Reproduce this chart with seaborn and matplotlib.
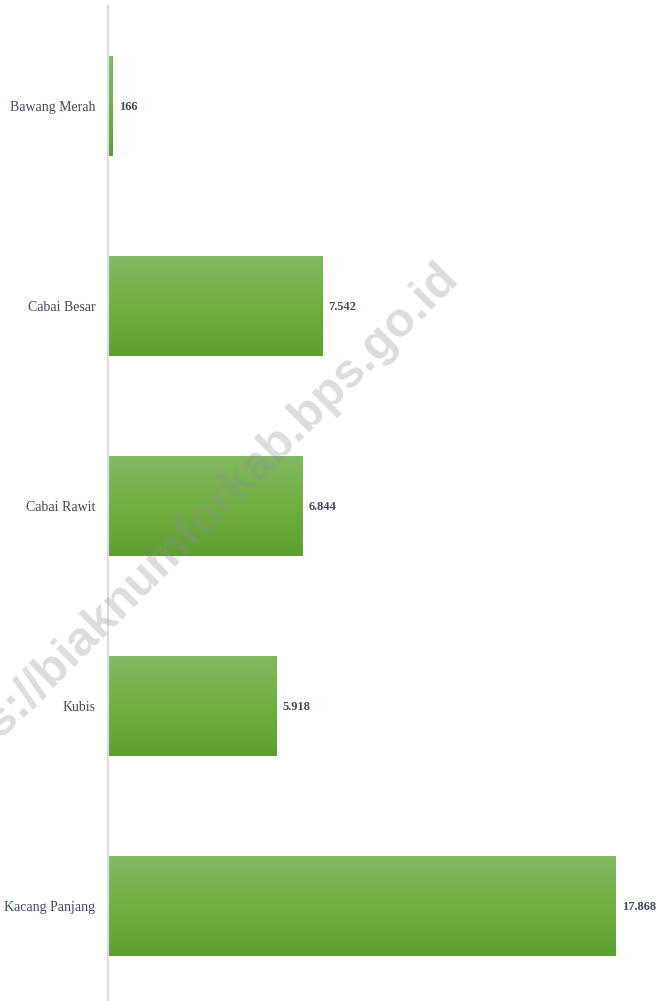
import numpy as np
import pandas as pd
import matplotlib
matplotlib.use("Agg")
import matplotlib.pyplot as plt
import seaborn as sns

# -------------------------------
# Data
# -------------------------------
komoditas = ["Bawang Merah", "Cabai Besar", "Cabai Rawit", "Kubis", "Kacang Panjang"]
produksi = [166, 7542, 6844, 5918, 17868]

df = pd.DataFrame({"Komoditas": komoditas, "Produksi": produksi})

sns.set_style("white")
plt.rcParams["font.family"] = ["Liberation Serif", "DejaVu Serif"]

TEXT_COLOR = "#3f4d63"

fig = plt.figure(figsize=(6.58, 10.01), dpi=100)
ax = fig.add_axes([108 / 658, -5 / 1001, 550 / 658, 1000 / 1001])

sns.barplot(data=df, y="Komoditas", x="Produksi", orient="h",
            color="#70ad47", width=0.5, ax=ax, zorder=2)

# gradient fill: lighter on top, darker at bottom
grad = np.linspace(0, 1, 256).reshape(-1, 1)
cmap = matplotlib.colors.LinearSegmentedColormap.from_list(
    "bar", ["#82b963", "#6fb041", "#5d9e30"])
for p in ax.patches:
    x0, y0 = p.get_x(), p.get_y()
    w, h = p.get_width(), p.get_height()
    im = ax.imshow(grad, cmap=cmap, aspect="auto", origin="upper",
                   extent=(x0, x0 + w, y0 + h, y0), zorder=3)
    im.set_clip_path(p)

xmax = max(produksi) * 550 / 508
ax.set_xlim(0, xmax)
ax.set_ylim(len(komoditas) - 0.5, -0.5)

# value labels (Indonesian thousand separator)
for i, v in enumerate(produksi):
    lbl = f"{v:,}".replace(",", ".")
    ax.text(v + xmax * 0.011, i + 0.005, lbl, va="center", ha="left",
            fontsize=9, fontweight="bold", color=TEXT_COLOR, zorder=5)

ax.set_xlabel("")
ax.set_ylabel("")
ax.set_xticks([])
ax.tick_params(axis="y", length=0, pad=9, labelsize=10, labelcolor=TEXT_COLOR)
for s in ["top", "right", "bottom"]:
    ax.spines[s].set_visible(False)
ax.spines["left"].set_color("#d9dde3")
ax.spines["left"].set_linewidth(1.6)
ax.spines["left"].set_zorder(6)

# watermark
fig.text(451 / 658, 1 - 270 / 1001, "https://biaknumforkab.bps.go.id",
         rotation=45, rotation_mode="anchor", ha="right", va="center",
         fontsize=35, fontweight="bold", family="Liberation Sans",
         color="#909090", alpha=0.3, zorder=10)

plt.savefig("out.png", dpi=100)
